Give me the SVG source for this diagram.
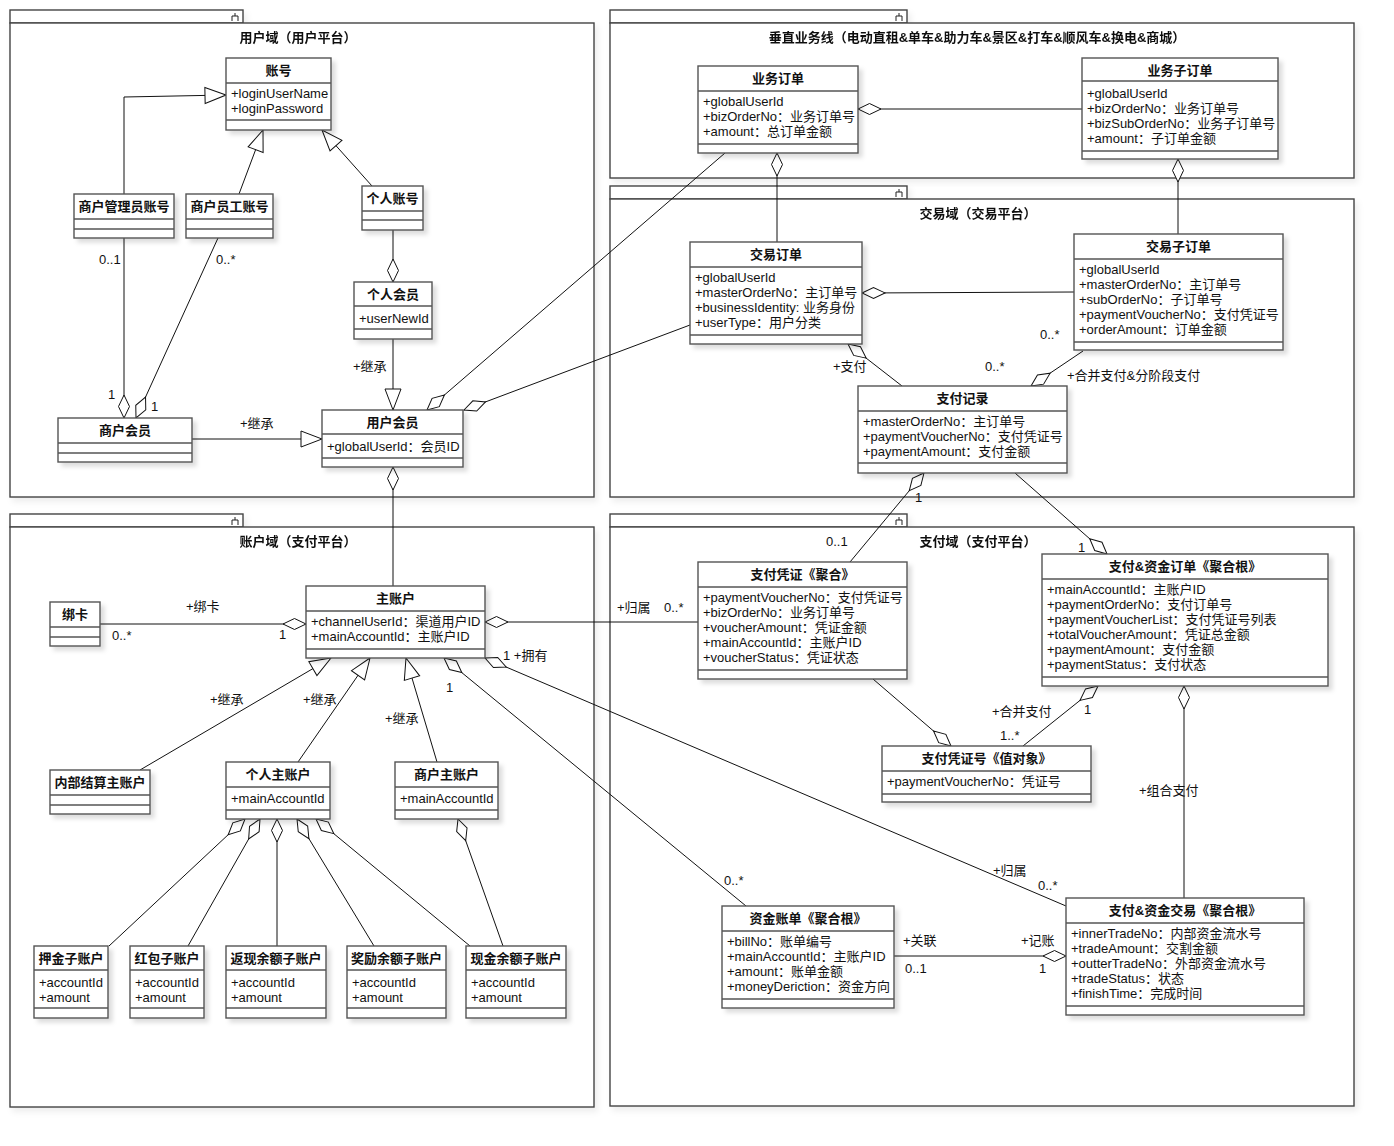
<svg xmlns="http://www.w3.org/2000/svg" width="1394" height="1146" viewBox="0 0 1394 1146">
<defs>
<style>
text{font-family:"Liberation Sans","Noto Sans CJK SC",sans-serif;font-size:13px;fill:#111}
.t{font-weight:bold;text-anchor:middle}
.n{font-weight:bold;text-anchor:middle}
.pk{fill:#fff;stroke:#444;stroke-width:1.4}
.ic{fill:none;stroke:#222;stroke-width:1}
.b{fill:#fff;stroke:#555;stroke-width:1.4}
.d{stroke:#555;stroke-width:1.4}
.c{stroke:#111;stroke-width:1;fill:none}
.agg{marker-start:url(#dia)}
.gen{marker-end:url(#tri)}
</style>
<filter id="sh" x="-10%" y="-10%" width="130%" height="140%">
<feDropShadow dx="4" dy="4" stdDeviation="2" flood-color="#000" flood-opacity="0.13"/>
</filter>
<filter id="psh" x="-5%" y="-5%" width="110%" height="110%">
<feDropShadow dx="3" dy="4" stdDeviation="3" flood-color="#000" flood-opacity="0.07"/>
</filter>
<marker id="dia" viewBox="-1 -7 26 14" refX="0" refY="0" markerWidth="26" markerHeight="14" markerUnits="userSpaceOnUse" orient="auto">
<path d="M0,0 L11.5,-5.5 L23,0 L11.5,5.5 Z" fill="#fff" stroke="#111" stroke-width="1"/>
</marker>
<marker id="tri" viewBox="-23 -10 24 20" refX="0" refY="0" markerWidth="24" markerHeight="20" markerUnits="userSpaceOnUse" orient="auto">
<path d="M0,0 L-21,-8 L-21,8 Z" fill="#fff" stroke="#111" stroke-width="1"/>
</marker>
</defs>
<rect width="1394" height="1146" fill="#fff"/>

<!-- packages -->
<g id="pkg-user" filter="url(#psh)">
<rect class="pk" x="10" y="10" width="233" height="13"/>
<rect class="pk" x="10" y="23" width="584" height="474"/>
<path class="ic" d="M232,21V16H238V21M235,16V13"/>
<text class="t" x="298" y="42">用户域（用户平台）</text>
</g>
<g id="pkg-biz" filter="url(#psh)">
<rect class="pk" x="610" y="10" width="297" height="13"/>
<rect class="pk" x="610" y="23" width="744" height="155"/>
<path class="ic" d="M896,21V16H902V21M899,16V13"/>
<text class="t" x="977" y="42">垂直业务线（电动直租&amp;单车&amp;助力车&amp;景区&amp;打车&amp;顺风车&amp;换电&amp;商城）</text>
</g>
<g id="pkg-trade" filter="url(#psh)">
<rect class="pk" x="610" y="186" width="297" height="13"/>
<rect class="pk" x="610" y="199" width="744" height="298"/>
<path class="ic" d="M896,197V192H902V197M899,192V189"/>
<text class="t" x="978" y="218">交易域（交易平台）</text>
</g>
<g id="pkg-account" filter="url(#psh)">
<rect class="pk" x="10" y="514" width="233" height="13"/>
<rect class="pk" x="10" y="527" width="584" height="580"/>
<path class="ic" d="M232,525V520H238V525M235,520V517"/>
<text class="t" x="298" y="546">账户域（支付平台）</text>
</g>
<g id="pkg-pay" filter="url(#psh)">
<rect class="pk" x="610" y="514" width="297" height="13"/>
<rect class="pk" x="610" y="527" width="744" height="579"/>
<path class="ic" d="M896,525V520H902V525M899,520V517"/>
<text class="t" x="978" y="546">支付域（支付平台）</text>
</g>

<!-- connectors -->
<g id="connectors">
<polyline class="c gen" points="124,194 124,97 226,95"/>
<line class="c gen" x1="239" y1="194" x2="263" y2="130"/>
<line class="c gen" x1="372" y1="186" x2="322" y2="130"/>
<line class="c agg" x1="393" y1="282" x2="393" y2="230"/>
<line class="c gen" x1="393" y1="339" x2="393" y2="410"/>
<line class="c gen" x1="192" y1="439" x2="322" y2="439"/>
<line class="c agg" x1="124" y1="418" x2="124" y2="238"/>
<line class="c agg" x1="136" y1="418" x2="218" y2="238"/>
<line class="c agg" x1="427" y1="410" x2="725" y2="153"/>
<line class="c agg" x1="464" y1="410" x2="690" y2="325"/>
<line class="c agg" x1="393" y1="467" x2="393" y2="586"/>
<line class="c agg" x1="858" y1="109" x2="1082" y2="109"/>
<line class="c agg" x1="777" y1="153" x2="777" y2="242"/>
<line class="c agg" x1="1178" y1="159" x2="1178" y2="234"/>
<line class="c agg" x1="862" y1="293" x2="1074" y2="292"/>
<line class="c agg" x1="848" y1="344" x2="902" y2="386"/>
<line class="c agg" x1="1031" y1="386" x2="1083" y2="351"/>
<line class="c agg" x1="924" y1="473" x2="850" y2="562"/>
<line class="c agg" x1="1107" y1="554" x2="1015" y2="473"/>
<line class="c agg" x1="485" y1="622" x2="698" y2="622"/>
<line class="c agg" x1="306" y1="624" x2="100" y2="624"/>
<line class="c gen" x1="140" y1="770" x2="331" y2="658"/>
<line class="c gen" x1="298" y1="762" x2="370" y2="658"/>
<line class="c gen" x1="437" y1="762" x2="406" y2="658"/>
<line class="c agg" x1="444" y1="658" x2="746" y2="906"/>
<line class="c agg" x1="485" y1="658" x2="1066" y2="906"/>
<line class="c agg" x1="245" y1="819" x2="109" y2="946"/>
<line class="c agg" x1="260" y1="819" x2="188" y2="946"/>
<line class="c agg" x1="277" y1="819" x2="277" y2="946"/>
<line class="c agg" x1="297" y1="819" x2="374" y2="946"/>
<line class="c agg" x1="316" y1="819" x2="470" y2="946"/>
<line class="c agg" x1="458" y1="819" x2="503" y2="946"/>
<line class="c agg" x1="951" y1="746" x2="873" y2="679"/>
<line class="c agg" x1="1098" y1="686" x2="1023" y2="746"/>
<line class="c agg" x1="1184" y1="686" x2="1184" y2="898"/>
<line class="c agg" x1="1066" y1="956" x2="894" y2="956"/>

<!-- role names and multiplicities -->
<text x="99" y="264">0..1</text>
<text x="216" y="264">0..*</text>
<text x="108" y="399">1</text>
<text x="151" y="411">1</text>
<text x="353" y="371">+继承</text>
<text x="240" y="428">+继承</text>
<text x="833" y="371">+支付</text>
<text x="985" y="371">0..*</text>
<text x="1040" y="339">0..*</text>
<text x="1067" y="380">+合并支付&amp;分阶段支付</text>
<text x="915" y="502">1</text>
<text x="826" y="546">0..1</text>
<text x="1078" y="552">1</text>
<text x="186" y="611">+绑卡</text>
<text x="112" y="640">0..*</text>
<text x="279" y="639">1</text>
<text x="617" y="612">+归属</text>
<text x="664" y="612">0..*</text>
<text x="503" y="660">1 +拥有</text>
<text x="446" y="692">1</text>
<text x="210" y="704">+继承</text>
<text x="303" y="704">+继承</text>
<text x="385" y="723">+继承</text>
<text x="992" y="716">+合并支付</text>
<text x="1084" y="714">1</text>
<text x="1000" y="740">1..*</text>
<text x="1139" y="795">+组合支付</text>
<text x="724" y="885">0..*</text>
<text x="993" y="875">+归属</text>
<text x="1038" y="890">0..*</text>
<text x="903" y="945">+关联</text>
<text x="1021" y="945">+记账</text>
<text x="905" y="973">0..1</text>
<text x="1039" y="973">1</text>
</g>

<!-- user domain classes -->
<g id="account">
<rect class="b" filter="url(#sh)" x="226" y="58" width="105" height="72"/>
<line class="d" x1="226" y1="83" x2="331" y2="83"/><line class="d" x1="226" y1="120" x2="331" y2="120"/>
<text class="n" x="278.5" y="75">账号</text>
<text x="231" y="98">+loginUserName</text>
<text x="231" y="113">+loginPassword</text>
</g>
<g id="merchant-admin-account">
<rect class="b" filter="url(#sh)" x="74" y="194" width="100" height="44"/>
<line class="d" x1="74" y1="219" x2="174" y2="219"/><line class="d" x1="74" y1="229" x2="174" y2="229"/>
<text class="n" x="124" y="211">商户管理员账号</text>
</g>
<g id="merchant-staff-account">
<rect class="b" filter="url(#sh)" x="186" y="194" width="87" height="44"/>
<line class="d" x1="186" y1="219" x2="273" y2="219"/><line class="d" x1="186" y1="229" x2="273" y2="229"/>
<text class="n" x="229.5" y="211">商户员工账号</text>
</g>
<g id="personal-account">
<rect class="b" filter="url(#sh)" x="362" y="186" width="61" height="44"/>
<line class="d" x1="362" y1="211" x2="423" y2="211"/><line class="d" x1="362" y1="220" x2="423" y2="220"/>
<text class="n" x="392.5" y="203">个人账号</text>
</g>
<g id="personal-member">
<rect class="b" filter="url(#sh)" x="354" y="282" width="78" height="57"/>
<line class="d" x1="354" y1="306" x2="432" y2="306"/><line class="d" x1="354" y1="329" x2="432" y2="329"/>
<text class="n" x="393" y="299">个人会员</text>
<text x="359" y="323">+userNewId</text>
</g>
<g id="user-member">
<rect class="b" filter="url(#sh)" x="322" y="410" width="141" height="57"/>
<line class="d" x1="322" y1="434" x2="463" y2="434"/><line class="d" x1="322" y1="458" x2="463" y2="458"/>
<text class="n" x="392.5" y="427">用户会员</text>
<text x="327" y="451">+globalUserId：会员ID</text>
</g>
<g id="merchant-member">
<rect class="b" filter="url(#sh)" x="58" y="418" width="134" height="44"/>
<line class="d" x1="58" y1="443" x2="192" y2="443"/><line class="d" x1="58" y1="453" x2="192" y2="453"/>
<text class="n" x="125" y="435">商户会员</text>
</g>

<!-- business line classes -->
<g id="biz-order">
<rect class="b" filter="url(#sh)" x="698" y="66" width="160" height="87"/>
<line class="d" x1="698" y1="91" x2="858" y2="91"/><line class="d" x1="698" y1="144" x2="858" y2="144"/>
<text class="n" x="778" y="83">业务订单</text>
<text x="703" y="106">+globalUserId</text>
<text x="703" y="121">+bizOrderNo：业务订单号</text>
<text x="703" y="136">+amount：总订单金额</text>
</g>
<g id="biz-sub-order">
<rect class="b" filter="url(#sh)" x="1082" y="58" width="196" height="101"/>
<line class="d" x1="1082" y1="81" x2="1278" y2="81"/><line class="d" x1="1082" y1="151" x2="1278" y2="151"/>
<text class="n" x="1180" y="75">业务子订单</text>
<text x="1087" y="98">+globalUserId</text>
<text x="1087" y="113">+bizOrderNo：业务订单号</text>
<text x="1087" y="128">+bizSubOrderNo：业务子订单号</text>
<text x="1087" y="143">+amount：子订单金额</text>
</g>

<!-- trade domain classes -->
<g id="trade-order">
<rect class="b" filter="url(#sh)" x="690" y="242" width="172" height="102"/>
<line class="d" x1="690" y1="267" x2="862" y2="267"/><line class="d" x1="690" y1="335" x2="862" y2="335"/>
<text class="n" x="776" y="259">交易订单</text>
<text x="695" y="282">+globalUserId</text>
<text x="695" y="297">+masterOrderNo：主订单号</text>
<text x="695" y="312">+businessIdentity: 业务身份</text>
<text x="695" y="327">+userType：用户分类</text>
</g>
<g id="trade-sub-order">
<rect class="b" filter="url(#sh)" x="1074" y="234" width="209" height="116"/>
<line class="d" x1="1074" y1="259" x2="1283" y2="259"/><line class="d" x1="1074" y1="342" x2="1283" y2="342"/>
<text class="n" x="1178.5" y="251">交易子订单</text>
<text x="1079" y="274">+globalUserId</text>
<text x="1079" y="289">+masterOrderNo：主订单号</text>
<text x="1079" y="304">+subOrderNo：子订单号</text>
<text x="1079" y="319">+paymentVoucherNo：支付凭证号</text>
<text x="1079" y="334">+orderAmount：订单金额</text>
</g>
<g id="payment-record">
<rect class="b" filter="url(#sh)" x="858" y="386" width="209" height="87"/>
<line class="d" x1="858" y1="411" x2="1067" y2="411"/><line class="d" x1="858" y1="463" x2="1067" y2="463"/>
<text class="n" x="962.5" y="403">支付记录</text>
<text x="863" y="426">+masterOrderNo：主订单号</text>
<text x="863" y="441">+paymentVoucherNo：支付凭证号</text>
<text x="863" y="456">+paymentAmount：支付金额</text>
</g>

<!-- account domain classes -->
<g id="main-account">
<rect class="b" filter="url(#sh)" x="306" y="586" width="179" height="72"/>
<line class="d" x1="306" y1="611" x2="485" y2="611"/><line class="d" x1="306" y1="649" x2="485" y2="649"/>
<text class="n" x="395.5" y="603">主账户</text>
<text x="311" y="626">+channelUserId：渠道用户ID</text>
<text x="311" y="641">+mainAccountId：主账户ID</text>
</g>
<g id="bind-card">
<rect class="b" filter="url(#sh)" x="50" y="602" width="50" height="44"/>
<line class="d" x1="50" y1="627" x2="100" y2="627"/><line class="d" x1="50" y1="637" x2="100" y2="637"/>
<text class="n" x="75" y="619">绑卡</text>
</g>
<g id="internal-main-account">
<rect class="b" filter="url(#sh)" x="50" y="770" width="100" height="44"/>
<line class="d" x1="50" y1="795" x2="150" y2="795"/><line class="d" x1="50" y1="805" x2="150" y2="805"/>
<text class="n" x="100" y="787">内部结算主账户</text>
</g>
<g id="personal-main-account">
<rect class="b" filter="url(#sh)" x="226" y="762" width="104" height="57"/>
<line class="d" x1="226" y1="787" x2="330" y2="787"/><line class="d" x1="226" y1="810" x2="330" y2="810"/>
<text class="n" x="278" y="779">个人主账户</text>
<text x="231" y="803">+mainAccountId</text>
</g>
<g id="merchant-main-account">
<rect class="b" filter="url(#sh)" x="395" y="762" width="103" height="57"/>
<line class="d" x1="395" y1="787" x2="498" y2="787"/><line class="d" x1="395" y1="810" x2="498" y2="810"/>
<text class="n" x="446.5" y="779">商户主账户</text>
<text x="400" y="803">+mainAccountId</text>
</g>
<g id="deposit-sub-account">
<rect class="b" filter="url(#sh)" x="34" y="946" width="74" height="72"/>
<line class="d" x1="34" y1="970" x2="108" y2="970"/><line class="d" x1="34" y1="1008" x2="108" y2="1008"/>
<text class="n" x="71" y="963">押金子账户</text>
<text x="39" y="987">+accountId</text>
<text x="39" y="1002">+amount</text>
</g>
<g id="redpacket-sub-account">
<rect class="b" filter="url(#sh)" x="130" y="946" width="74" height="72"/>
<line class="d" x1="130" y1="970" x2="204" y2="970"/><line class="d" x1="130" y1="1008" x2="204" y2="1008"/>
<text class="n" x="167" y="963">红包子账户</text>
<text x="135" y="987">+accountId</text>
<text x="135" y="1002">+amount</text>
</g>
<g id="cashback-sub-account">
<rect class="b" filter="url(#sh)" x="226" y="946" width="100" height="72"/>
<line class="d" x1="226" y1="970" x2="326" y2="970"/><line class="d" x1="226" y1="1008" x2="326" y2="1008"/>
<text class="n" x="276" y="963">返现余额子账户</text>
<text x="231" y="987">+accountId</text>
<text x="231" y="1002">+amount</text>
</g>
<g id="reward-sub-account">
<rect class="b" filter="url(#sh)" x="347" y="946" width="99" height="72"/>
<line class="d" x1="347" y1="970" x2="446" y2="970"/><line class="d" x1="347" y1="1008" x2="446" y2="1008"/>
<text class="n" x="396.5" y="963">奖励余额子账户</text>
<text x="352" y="987">+accountId</text>
<text x="352" y="1002">+amount</text>
</g>
<g id="cash-sub-account">
<rect class="b" filter="url(#sh)" x="466" y="946" width="100" height="72"/>
<line class="d" x1="466" y1="970" x2="566" y2="970"/><line class="d" x1="466" y1="1008" x2="566" y2="1008"/>
<text class="n" x="516" y="963">现金余额子账户</text>
<text x="471" y="987">+accountId</text>
<text x="471" y="1002">+amount</text>
</g>

<!-- payment domain classes -->
<g id="payment-voucher">
<rect class="b" filter="url(#sh)" x="698" y="562" width="209" height="117"/>
<line class="d" x1="698" y1="587" x2="907" y2="587"/><line class="d" x1="698" y1="670" x2="907" y2="670"/>
<text class="n" x="802.5" y="579">支付凭证《聚合》</text>
<text x="703" y="602">+paymentVoucherNo：支付凭证号</text>
<text x="703" y="617">+bizOrderNo：业务订单号</text>
<text x="703" y="632">+voucherAmount：凭证金额</text>
<text x="703" y="647">+mainAccountId：主账户ID</text>
<text x="703" y="662">+voucherStatus：凭证状态</text>
</g>
<g id="payment-fund-order">
<rect class="b" filter="url(#sh)" x="1042" y="554" width="286" height="132"/>
<line class="d" x1="1042" y1="579" x2="1328" y2="579"/><line class="d" x1="1042" y1="677" x2="1328" y2="677"/>
<text class="n" x="1185" y="571">支付&amp;资金订单《聚合根》</text>
<text x="1047" y="594">+mainAccountId：主账户ID</text>
<text x="1047" y="609">+paymentOrderNo：支付订单号</text>
<text x="1047" y="624">+paymentVoucherList：支付凭证号列表</text>
<text x="1047" y="639">+totalVoucherAmount：凭证总金额</text>
<text x="1047" y="654">+paymentAmount：支付金额</text>
<text x="1047" y="669">+paymentStatus：支付状态</text>
</g>
<g id="payment-voucher-no">
<rect class="b" filter="url(#sh)" x="882" y="746" width="209" height="56"/>
<line class="d" x1="882" y1="771" x2="1091" y2="771"/><line class="d" x1="882" y1="794" x2="1091" y2="794"/>
<text class="n" x="986.5" y="763">支付凭证号《值对象》</text>
<text x="887" y="786">+paymentVoucherNo：凭证号</text>
</g>
<g id="fund-bill">
<rect class="b" filter="url(#sh)" x="722" y="906" width="172" height="102"/>
<line class="d" x1="722" y1="931" x2="894" y2="931"/><line class="d" x1="722" y1="999" x2="894" y2="999"/>
<text class="n" x="808" y="923">资金账单《聚合根》</text>
<text x="727" y="946">+billNo：账单编号</text>
<text x="727" y="961">+mainAccountId：主账户ID</text>
<text x="727" y="976">+amount：账单金额</text>
<text x="727" y="991">+moneyDeriction：资金方向</text>
</g>
<g id="payment-fund-trade">
<rect class="b" filter="url(#sh)" x="1066" y="898" width="238" height="117"/>
<line class="d" x1="1066" y1="923" x2="1304" y2="923"/><line class="d" x1="1066" y1="1006" x2="1304" y2="1006"/>
<text class="n" x="1185" y="915">支付&amp;资金交易《聚合根》</text>
<text x="1071" y="938">+innerTradeNo：内部资金流水号</text>
<text x="1071" y="953">+tradeAmount：交割金额</text>
<text x="1071" y="968">+outterTradeNo：外部资金流水号</text>
<text x="1071" y="983">+tradeStatus：状态</text>
<text x="1071" y="998">+finishTime：完成时间</text>
</g>
</svg>
